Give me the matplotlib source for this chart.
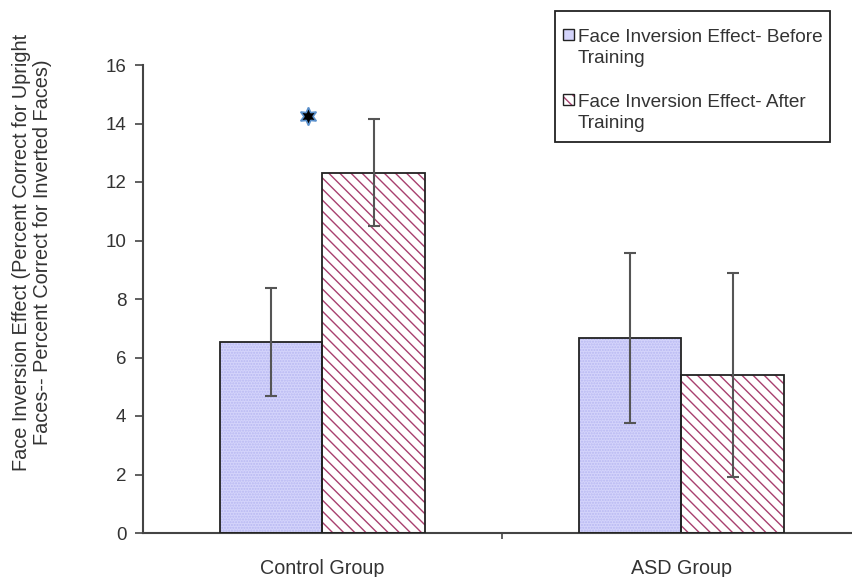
import matplotlib
matplotlib.use("Agg")
import matplotlib.pyplot as plt
from matplotlib.patches import Rectangle
import numpy as np

plt.rcParams['font.family'] = ['Liberation Sans', 'DejaVu Sans']
plt.rcParams['hatch.linewidth'] = 1.0

categories = ["Control Group", "ASD Group"]
series_names = [["Face Inversion Effect- Before", "Training"],
                ["Face Inversion Effect- After", "Training"]]
before = [6.53, 6.67]
before_err = [1.83, 2.9]
after = [12.31, 5.40]
after_err = [1.83, 3.5]
star_x = [-0.04]
star_y = [14.26]
yticks = [0, 2, 4, 6, 8, 10, 12, 14, 16]
ylabel = "Face Inversion Effect (Percent Correct for Upright\nFaces-- Percent Correct for Inverted Faces)"

W, H = 853, 577
fig = plt.figure(figsize=(W / 100, H / 100), dpi=100)
ax = fig.add_axes([143 / W, 1 - 533 / H, 1 - 143 / W, (533 - 65) / H])

x = np.arange(len(categories))
bw = 0.285
blue_fill = '#d4d4fb'
blue_dots = '#b8b8f2'
red_hatch = '#a8406f'
txt = '#333333'

# before bars
ax.bar(x - bw / 2, before, bw, color=blue_fill, edgecolor=blue_dots, hatch='......', linewidth=0, zorder=2)
ax.bar(x - bw / 2, before, bw, fill=False, edgecolor='#222222', linewidth=1.3, zorder=3)
# after bars
ax.bar(x + bw / 2, after, bw, color='white', edgecolor=red_hatch, hatch='\\\\\\', linewidth=0, zorder=2)
ax.bar(x + bw / 2, after, bw, fill=False, edgecolor='#222222', linewidth=1.3, zorder=3)

ax.errorbar(x - bw / 2, before, yerr=before_err, fmt='none', ecolor='#555555',
            elinewidth=1.5, capsize=4, capthick=1.5, zorder=4)
ax.errorbar(x + bw / 2, after, yerr=after_err, fmt='none', ecolor='#555555',
            elinewidth=1.5, capsize=4, capthick=1.5, zorder=4)

ax.plot(star_x, star_y, marker=(6, 1, 0), markersize=13, markerfacecolor='black',
        markeredgecolor='#5a90cc', markeredgewidth=1.2, linestyle='none', zorder=5)

ax.set_xlim(-0.5, (W - 321) / 360)
ax.set_ylim(0, 16)
ax.set_yticks(yticks)
ax.set_yticklabels([str(v) for v in yticks])
ax.set_xticks(x)
ax.set_xticklabels(categories)
ax.set_xticks([0.5], minor=True)
ax.tick_params(axis='x', which='major', length=0, pad=19, labelsize=14.2, labelcolor=txt)
ax.tick_params(axis='x', which='minor', length=4, width=1.2, color='#444444')
ax.tick_params(axis='y', length=6, width=1.2, color='#444444', pad=6, labelsize=13.5, labelcolor=txt)

for s in ['top', 'right']:
    ax.spines[s].set_visible(False)
for s in ['left', 'bottom']:
    ax.spines[s].set_color('#444444')
    ax.spines[s].set_linewidth(1.5)

fig.text(32 / W, 1 - 252 / H, ylabel, rotation=90, ha='center', va='center',
         fontsize=14.3, color=txt, multialignment='center', linespacing=1.15)

# legend box drawn in figure pixels
def fx(px):
    return px / W

def fy(py):
    return 1 - py / H

fig.patches.append(Rectangle((fx(555), fy(142)), fx(830) - fx(555), fy(11) - fy(142),
                             transform=fig.transFigure, facecolor='white', edgecolor='#222222',
                             linewidth=1.3, zorder=10))
handle_styles = [dict(facecolor=blue_fill, edgecolor='#222222', hatch=None),
                 dict(facecolor='white', edgecolor='#222222', hatch=None)]
entry_tops = [29, 94]
entry_baselines = [(42, 63), (107, 128)]
for i, (lines, top, bls) in enumerate(zip(series_names, entry_tops, entry_baselines)):
    if i == 0:
        fig.patches.append(Rectangle((fx(563), fy(top + 11)), fx(11), 11 / H, transform=fig.transFigure,
                                     facecolor=blue_fill, edgecolor='#222222', linewidth=1.0, zorder=11))
    else:
        fig.patches.append(Rectangle((fx(563), fy(top + 11)), fx(11), 11 / H, transform=fig.transFigure,
                                     facecolor='white', edgecolor=red_hatch, hatch='\\\\\\', linewidth=0, zorder=11))
        fig.patches.append(Rectangle((fx(563), fy(top + 11)), fx(11), 11 / H, transform=fig.transFigure,
                                     fill=False, edgecolor='#222222', linewidth=1.0, zorder=12))
    for line, bl in zip(lines, bls):
        fig.text(fx(578), fy(bl), line, ha='left', va='baseline', fontsize=13.7, color=txt, zorder=13)

fig.savefig('out.png', dpi=100)
